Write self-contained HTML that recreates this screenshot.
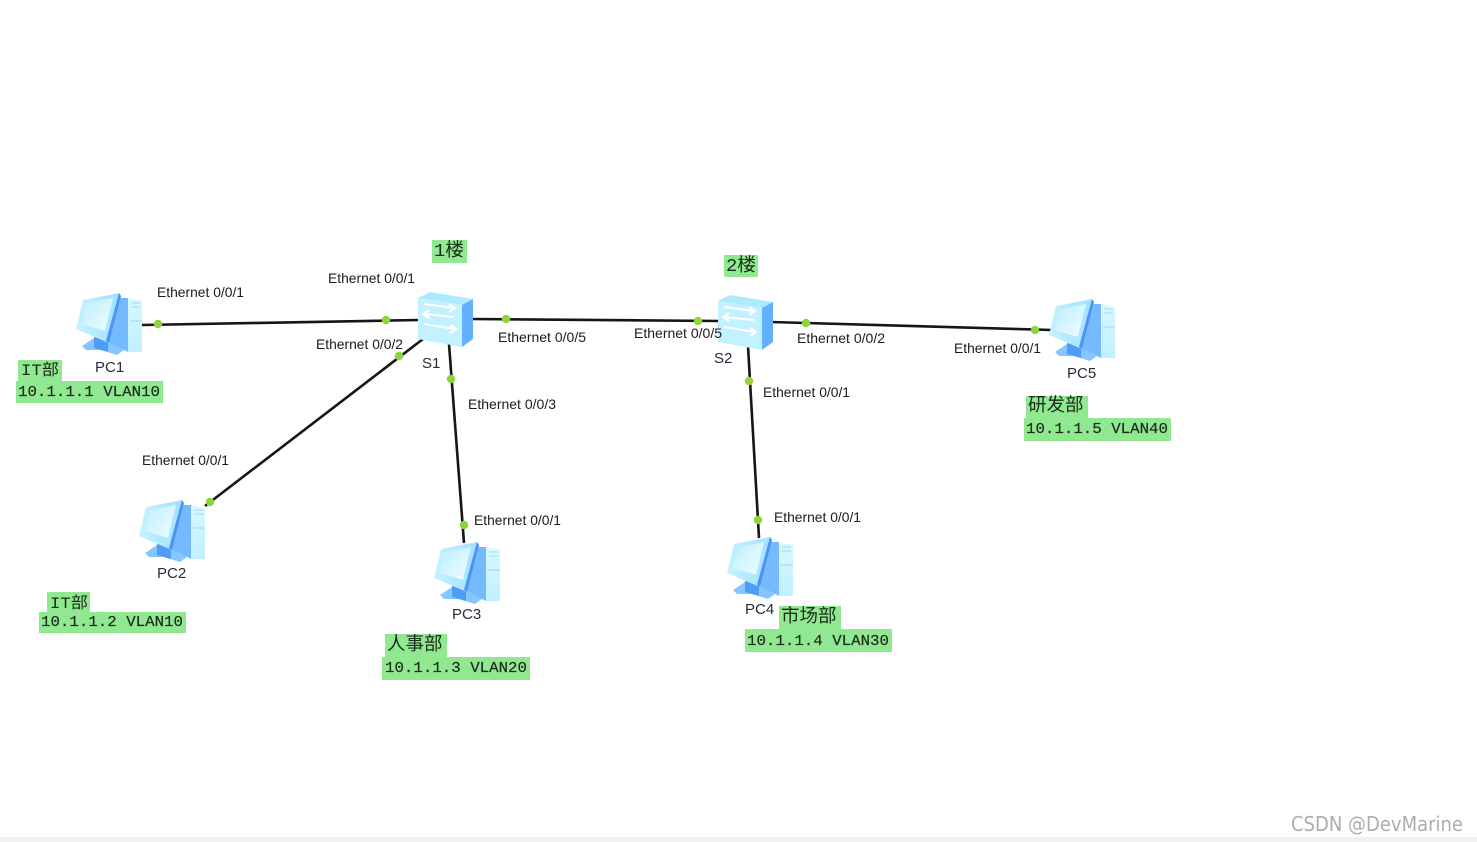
<!DOCTYPE html>
<html><head><meta charset="utf-8"><style>
html,body{margin:0;padding:0;background:#fff;width:1477px;height:842px;overflow:hidden}
svg{display:block}
.e{font:14px "Liberation Sans",sans-serif;fill:#1a1a1a}
.n{font:15px "Liberation Sans",sans-serif;fill:#2a2a3a}
.m{font:15px "Liberation Mono",monospace;fill:#1c2c1c;stroke:#1c2c1c;stroke-width:.2}
.c{font:18.5px "Liberation Mono","Noto Sans CJK SC",sans-serif;fill:#1c2c1c}
.g{fill:#90e890}
.d{fill:#8fd43c}
</style></head><body>
<svg width="1477" height="842" viewBox="0 0 1477 842" xmlns="http://www.w3.org/2000/svg">
<defs>
<filter id="b" x="-2%" y="-2%" width="104%" height="104%"><feGaussianBlur stdDeviation="0.35"/></filter>
<linearGradient id="scr" x1="0" y1="0" x2="1" y2="1"><stop offset="0" stop-color="#bdeeff"/><stop offset="1" stop-color="#effdff"/></linearGradient>
<linearGradient id="twr" x1="0" y1="0" x2="0" y2="1"><stop offset="0" stop-color="#d8f8ff"/><stop offset="1" stop-color="#c0f0ff"/></linearGradient>
<linearGradient id="fr" x1="0" y1="0" x2="1" y2="0"><stop offset="0" stop-color="#c6f2ff"/><stop offset="1" stop-color="#a0dfff"/></linearGradient>
<g id="pc">
<polygon points="51,6 65,9 65,60 51,60" fill="url(#twr)"/>
<polygon points="40,6 51,6 51,60 31,50" fill="#74baff"/>
<path d="M54,11H63M54,15H63M53,29H65" stroke="#9adcf2" stroke-width="1" fill="none"/>
<polygon points="5,54 17,46 32,50 47,58 40,63 24,58 9,58" fill="#86c6ff"/>
<polygon points="17,45 31,48 31,60 17,56" fill="#4f9cf5"/>
<polygon points="6,8 42,1 44,4 32,51 -1,37" fill="url(#fr)"/>
<polygon points="42,1 44,4 32,51 29,49" fill="#4c94f2"/>
<polygon points="10,11 36,6 28,39 5,32" fill="url(#scr)"/>
</g>
<g id="sw">
<polygon points="0,6 12,0 55,7 44,13" fill="#aeeaff"/>
<polygon points="0,6 44,13 44,55 0,47" fill="#c2f2ff"/>
<polygon points="44,13 55,7 55,47 44,55" fill="#62b0ff"/>
<g fill="none" stroke="#fff" stroke-width="2">
<path d="M6,12 L36,16 M31,12 L37,16 L31,20"/>
<path d="M36,25 L6,22 M11,18 L5,22 L11,26"/>
<path d="M6,32 L37,37 M32,33 L38,37 L32,41"/>
</g>
</g>
</defs>

<rect x="0" y="837" width="1477" height="5" fill="#f1f1f1"/>
<g filter="url(#b)">
<g stroke="#141414" stroke-width="2.6" fill="none">
<line x1="142" y1="325" x2="420" y2="320"/>
<line x1="471" y1="319" x2="720" y2="321"/>
<line x1="771" y1="322" x2="1052" y2="330"/>
<line x1="423" y1="339" x2="205" y2="506"/>
<line x1="449" y1="344" x2="464" y2="543"/>
<line x1="748" y1="346" x2="759" y2="538"/>
</g>

<use href="#pc" x="77" y="292"/>
<use href="#pc" x="140" y="499"/>
<use href="#pc" x="435" y="541"/>
<use href="#pc" x="728" y="536"/>
<use href="#pc" x="1050" y="298"/>
<use href="#sw" x="418" y="292"/>
<use href="#sw" x="718" y="295"/>

<g class="d">
<circle cx="158" cy="324" r="4.2"/><circle cx="386" cy="320" r="4.2"/>
<circle cx="399" cy="356" r="4.2"/><circle cx="210" cy="502" r="4.2"/>
<circle cx="451" cy="379" r="4.2"/><circle cx="464" cy="525" r="4.2"/>
<circle cx="506" cy="319" r="4.2"/><circle cx="698" cy="321" r="4.2"/>
<circle cx="806" cy="323" r="4.2"/><circle cx="1035" cy="330" r="4.2"/>
<circle cx="749" cy="381" r="4.2"/><circle cx="758" cy="520" r="4.2"/>
</g>

<g class="e">
<text x="157" y="297" textLength="87" lengthAdjust="spacingAndGlyphs">Ethernet 0/0/1</text>
<text x="328" y="283" textLength="87" lengthAdjust="spacingAndGlyphs">Ethernet 0/0/1</text>
<text x="316" y="349" textLength="87" lengthAdjust="spacingAndGlyphs">Ethernet 0/0/2</text>
<text x="498" y="342" textLength="88" lengthAdjust="spacingAndGlyphs">Ethernet 0/0/5</text>
<text x="468" y="409" textLength="88" lengthAdjust="spacingAndGlyphs">Ethernet 0/0/3</text>
<text x="142" y="465" textLength="87" lengthAdjust="spacingAndGlyphs">Ethernet 0/0/1</text>
<text x="474" y="525" textLength="87" lengthAdjust="spacingAndGlyphs">Ethernet 0/0/1</text>
<text x="634" y="338" textLength="88" lengthAdjust="spacingAndGlyphs">Ethernet 0/0/5</text>
<text x="797" y="343" textLength="88" lengthAdjust="spacingAndGlyphs">Ethernet 0/0/2</text>
<text x="763" y="397" textLength="87" lengthAdjust="spacingAndGlyphs">Ethernet 0/0/1</text>
<text x="774" y="522" textLength="87" lengthAdjust="spacingAndGlyphs">Ethernet 0/0/1</text>
<text x="954" y="353" textLength="87" lengthAdjust="spacingAndGlyphs">Ethernet 0/0/1</text>
</g>

<g class="n">
<text x="95" y="372">PC1</text>
<text x="157" y="578">PC2</text>
<text x="452" y="619">PC3</text>
<text x="745" y="614">PC4</text>
<text x="1067" y="378">PC5</text>
<text x="422" y="368">S1</text>
<text x="714" y="363">S2</text>
</g>

<g class="g">
<rect x="18" y="360" width="44" height="21"/><rect x="16" y="381" width="147" height="22"/>
<rect x="47" y="592" width="43" height="21"/><rect x="39" y="612" width="147" height="21"/>
<rect x="385" y="634" width="62" height="23"/><rect x="382" y="657" width="148" height="23"/>
<rect x="779" y="606" width="62" height="23"/><rect x="745" y="629" width="147" height="23"/>
<rect x="1026" y="396" width="62" height="22"/><rect x="1024" y="418" width="147" height="23"/>
<rect x="432" y="240" width="35" height="23"/><rect x="724" y="255" width="34" height="22"/>
</g>

<g class="m">
<text x="18" y="396" textLength="142" lengthAdjust="spacingAndGlyphs">10.1.1.1 VLAN10</text>
<text x="41" y="626" textLength="142" lengthAdjust="spacingAndGlyphs">10.1.1.2 VLAN10</text>
<text x="385" y="672" textLength="142" lengthAdjust="spacingAndGlyphs">10.1.1.3 VLAN20</text>
<text x="747" y="645" textLength="142" lengthAdjust="spacingAndGlyphs">10.1.1.4 VLAN30</text>
<text x="1026" y="433" textLength="142" lengthAdjust="spacingAndGlyphs">10.1.1.5 VLAN40</text>
</g>

<g class="c">
<text x="21" y="375" textLength="38" lengthAdjust="spacingAndGlyphs" style="font-size:16px">IT部</text>
<text x="50" y="608" textLength="38" lengthAdjust="spacingAndGlyphs" style="font-size:16px">IT部</text>
<text x="387" y="650">人事部</text>
<text x="781" y="622">市场部</text>
<text x="1028" y="411">研发部</text>
<text x="434" y="256" textLength="30" lengthAdjust="spacingAndGlyphs">1楼</text>
<text x="726" y="271" textLength="30" lengthAdjust="spacingAndGlyphs">2楼</text>
</g>

<text x="1291" y="831" textLength="172" lengthAdjust="spacingAndGlyphs" style="font:20px 'DejaVu Sans',sans-serif;fill:#adadad">CSDN @DevMarine</text>
</g>
</svg>
</body></html>
